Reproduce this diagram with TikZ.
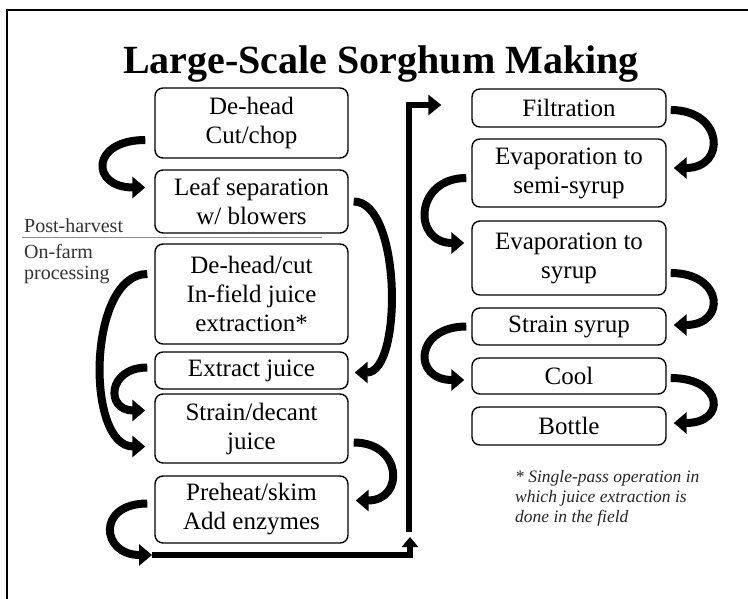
\documentclass[tikz,border=0pt]{standalone}
\usepackage{fontspec}
\setmainfont{Liberation Serif}
\usepackage{tikz}
\usetikzlibrary{arrows.meta,calc}

\begin{document}
\begin{tikzpicture}[x=1pt, y=-1pt,
    stepbox/.style={draw, line width=1.4pt, rounded corners=8pt, align=center, inner sep=0pt,
        font=\fontsize{25}{29}\selectfont},
    lbox/.style={stepbox, minimum width=193pt},
    rbox/.style={stepbox, minimum width=194pt},
    curved/.style={line width=8pt, -{Triangle[length=13pt, width=21pt]}},
    flow/.style={line width=6pt},
    side/.style={font=\fontsize{20}{21}\selectfont, text=black!80, inner sep=0pt}]

            \useasboundingbox (0,0) rectangle (748,599);
            \draw[line width=1.5pt] (7,599) -- (7,10) -- (748,10);

            \node[font=\bfseries\fontsize{40}{46}\selectfont, anchor=base] (title) at (381,74) {Large-Scale Sorghum Making};

            % post-harvest / on-farm split
            \draw[black!45, line width=0.8pt] (22,237) -- (322,237);
            \node[side, anchor=base west] (post) at (24,233) {Post-harvest};
            \node[side, anchor=north west, align=left] (onfarm) at (24,244) {On-farm\\processing};

            % left column
            \node[lbox, minimum height=70pt] (dehead) at (251.5,123) {De-head\\Cut/chop};
            \node[lbox, minimum height=63pt] (leafsep) at (251.5,201.5) {Leaf separation\\w/ blowers};
            \node[lbox, minimum height=100pt] (infield) at (251.5,294) {De-head/cut\\In-field juice\\extraction*};
            \node[lbox, minimum height=37pt] (extract) at (251.5,370.5) {Extract juice};
            \node[lbox, minimum height=69pt] (strain) at (251.5,428.5) {Strain/decant\\juice};
            \node[lbox, minimum height=67pt] (preheat) at (251.5,509.5) {Preheat/skim\\Add enzymes};

            % right column
            \node[rbox, minimum height=38pt] (filtration) at (569,108) {Filtration};
            \node[rbox, minimum height=68pt] (evapsemi) at (569,173) {Evaporation to\\semi-syrup};
            \node[rbox, minimum height=74pt] (evapsyrup) at (569,258) {Evaporation to\\syrup};
            \node[rbox, minimum height=37pt] (strainsyrup) at (569,326.5) {Strain syrup};
            \node[rbox, minimum height=36pt] (cool) at (569,376) {Cool};
            \node[rbox, minimum height=38pt] (bottle) at (569,426) {Bottle};

            \node[anchor=north west, align=left, inner sep=0pt, text=black!85,
                font=\itshape\fontsize{17.5}{20}\selectfont] (note) at (515,470)
                {* Single-pass operation in\\which juice extraction is\\done in the field};

            % curved arrows, left column
            \draw[curved] ($(dehead.west)+(-9,17)$) .. controls +(-55,0) and +(-55,0) .. ($(leafsep.west)+(-9,-14)$);
            \draw[curved] ($(leafsep.east)+(5,0)$) .. controls +(48,0) and +(48,0) .. ($(extract.east)+(6,2)$);
            \draw[curved] ($(infield.west)+(-7,-20)$) .. controls +(-60,0) and +(-60,0) .. ($(strain.west)+(-9,18)$);
            \draw[curved] ($(extract.west)+(-7,-3)$) .. controls +(-40,0) and +(-40,0) .. ($(strain.west)+(-9,-18)$);
            \draw[curved] ($(strain.east)+(5,14)$) .. controls +(49,0) and +(49,0) .. ($(preheat.east)+(7,-9)$);

            \coordinate (base) at (152,555);
            \coordinate (risetip) at (410,537);
            \coordinate (risebot) at (409,532);
            \coordinate (filtin) at ($(filtration.west)+(-30,-3)$);
            \draw[curved] ($(preheat.west)+(-7,-6)$) .. controls +(-51,0) and +(-51,0) .. (base);

            % main feed line to the right column
            \draw[flow, -{Triangle[length=10pt, width=16pt]}] (base) -| (risetip);
            \draw[flow, -{Triangle[length=13pt, width=20pt]}] (risebot) |- (filtin);

            % curved arrows, right column
            \draw[curved] ($(filtration.east)+(4,2)$) .. controls +(53,0) and +(53,0) .. ($(evapsemi.east)+(7,-5)$);
            \draw[curved] ($(evapsemi.west)+(-5,5)$) .. controls +(-52,0) and +(-52,0) .. ($(evapsyrup.west)+(-7,-15)$);
            \draw[curved] ($(evapsyrup.east)+(4,15)$) .. controls +(53,0) and +(53,0) .. ($(strainsyrup.east)+(7,-1.5)$);
            \draw[curved] ($(strainsyrup.west)+(-5,0)$) .. controls +(-52,0) and +(-52,0) .. ($(cool.west)+(-7,4)$);
            \draw[curved] ($(cool.east)+(4,2)$) .. controls +(53,0) and +(53,0) .. ($(bottle.east)+(7,-3)$);
            \end{tikzpicture}
\end{document}
